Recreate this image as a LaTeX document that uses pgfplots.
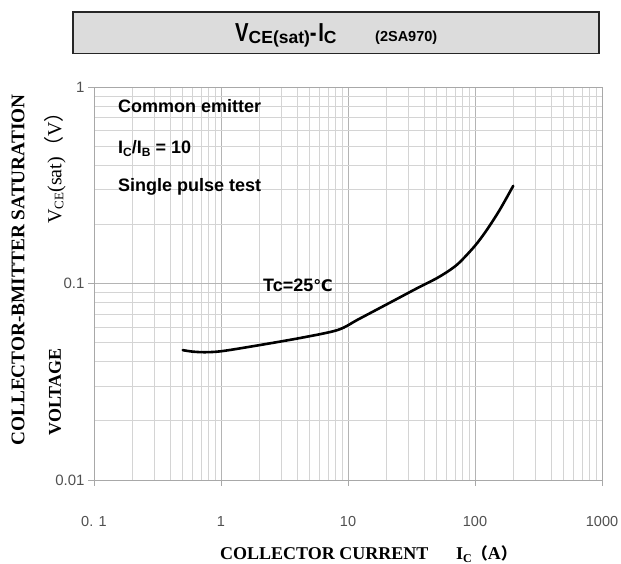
\documentclass[border=0pt]{standalone}
\usepackage{pgfplots}
\pgfplotsset{compat=1.18}
\usepackage{pgfplotstable}
\usepackage{fontspec}
\setmainfont{Liberation Serif}
\newfontfamily\arial{Liberation Sans}
\newfontfamily\dejavu{DejaVu Sans}
\newfontfamily\cjk{Noto Sans CJK SC}
\definecolor{gridmaj}{HTML}{B4B4B4}
\definecolor{gridmin}{HTML}{D4D4D4}
\definecolor{axisc}{HTML}{A8A8A8}
\definecolor{tickc}{HTML}{505050}
\definecolor{boxfill}{HTML}{DCDCDC}

\pgfplotstableread{
x y
0.5 0.0458
0.6 0.0450
0.75 0.0447
1 0.0452
1.7 0.0477
4.2 0.0528
8.3 0.0580
12 0.0656
18.9 0.0766
25.7 0.0851
35 0.0946
50 0.1064
64 0.1175
76 0.1285
100 0.1556
124 0.1875
157 0.2377
200 0.3140
}\vcedata

\begin{document}
\begin{tikzpicture}[x=1pt,y=1pt]
\useasboundingbox (0,0) rectangle (621,564);
% title box
\draw[line width=1.6pt, draw=black!85, fill=boxfill] (73,552) rectangle (599,510.5);
\node[anchor=base west, inner sep=0, font=\arial\bfseries\fontsize{26}{26}\selectfont] at (235,522)
  {\scalebox{0.78}[1]{V}\raisebox{-1.5pt}{\fontsize{17.5}{17.5}\selectfont CE(sat)}\scalebox{0.78}[1]{-\hspace{2pt}I}\raisebox{-1.5pt}{\fontsize{17.5}{17.5}\selectfont C}};
\node[anchor=base west, inner sep=0, font=\arial\bfseries\fontsize{14.5}{14.5}\selectfont] at (375,522) {(2SA970)};

\begin{axis}[
  at={(94pt,84pt)}, anchor=south west,
  scale only axis, width=508pt, height=393pt,
  xmode=log, ymode=log,
  xmin=0.1, xmax=1000, ymin=0.01, ymax=1,
  xtick={0.1,1,10,100,1000},
  xticklabels={0. 1,1,10,100,1000},
  ytick={0.01,0.1,1},
  yticklabels={0.01,0.1,1},
  grid=both,
  major grid style={gridmaj, line width=0.8pt},
  minor grid style={gridmin, line width=0.8pt},
  axis line style={axisc, line width=0.8pt},
  tick align=outside, tick pos=left,
  major tick length=6pt, minor tick length=0pt,
  tick style={axisc, line width=0.8pt},
  xticklabel style={font=\arial\fontsize{14.5}{14.5}\selectfont, text=tickc, anchor=base, yshift=-41pt},
  yticklabel style={font=\arial\fontsize{15}{15}\selectfont, text=tickc, anchor=east},
  clip=false,
]
\addplot[black, line width=2.6pt, smooth, tension=0.5, line cap=round] table[x=x,y=y] {\vcedata};
\end{axis}

% annotations
\node[anchor=base west, inner sep=0, font=\arial\bfseries\fontsize{18}{18}\selectfont] at (118,451) {Common emitter};
\node[anchor=base west, inner sep=0, font=\arial\bfseries\fontsize{18}{18}\selectfont] at (118,410)
  {I\raisebox{-2.5pt}{\fontsize{12}{12}\selectfont C}/I\raisebox{-2.5pt}{\fontsize{12}{12}\selectfont B} = 10};
\node[anchor=base west, inner sep=0, font=\arial\bfseries\fontsize{18}{18}\selectfont] at (118,372) {Single pulse test};
\node[anchor=base west, inner sep=0, font=\arial\bfseries\fontsize{18}{18}\selectfont] at (263,272) {Tc=25{\dejavu\bfseries\fontsize{16}{16}\selectfont ℃}};

% axis labels
\node[rotate=90, inner sep=0, font=\bfseries\fontsize{19.3}{19.3}\selectfont] at (18,294) {COLLECTOR-BMITTER SATURATION};
\node[rotate=90, inner sep=0, font=\bfseries\fontsize{18}{18}\selectfont] at (55,172) {VOLTAGE};
\node[rotate=90, inner sep=0, font=\fontsize{20}{20}\selectfont] at (55,401) {V\raisebox{-2pt}{\fontsize{13}{13}\selectfont CE}(sat){\cjk（}V{\cjk）}};
\node[anchor=base west, inner sep=0, font=\bfseries\fontsize{18}{18}\selectfont] at (220,4) {COLLECTOR CURRENT};
\node[anchor=base west, inner sep=0, font=\bfseries\fontsize{18}{18}\selectfont] at (456,4) {I\raisebox{-2.5pt}{\fontsize{12}{12}\selectfont C}{\cjk\fontsize{16}{16}\selectfont （}A{\cjk\fontsize{16}{16}\selectfont ）}};
\end{tikzpicture}
\end{document}
